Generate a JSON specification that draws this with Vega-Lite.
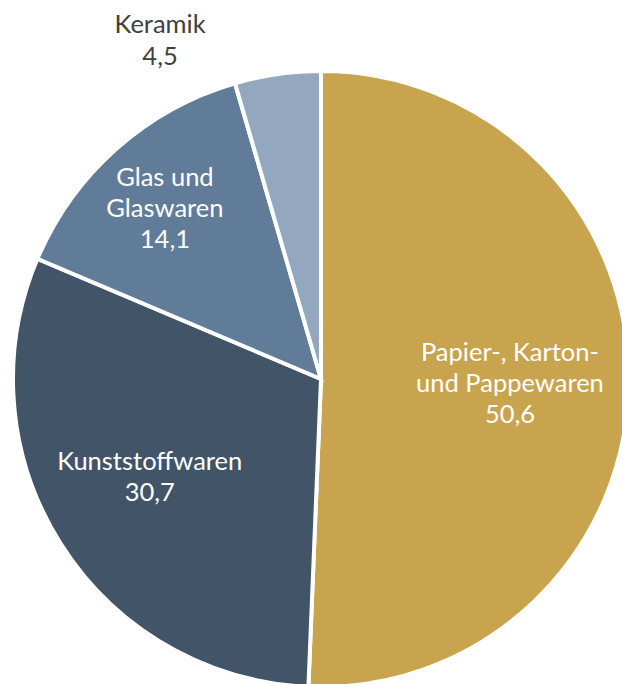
{
  "$schema": "https://vega.github.io/schema/vega-lite/v6.json",
  "width": 622,
  "height": 684,
  "autosize": "none",
  "padding": {"left": 10, "top": 37, "right": -10, "bottom": -37},
  "background": "white",
  "config": {"view": {"stroke": null}},
  "data": {
    "values": [
      {"category": "Papier-, Karton- und Pappewaren", "label": "Papier-, Karton-\nund Pappewaren\n50,6", "value": 50.6, "idx": 1},
      {"category": "Kunststoffwaren", "label": "Kunststoffwaren\n30,7", "value": 30.7, "idx": 2},
      {"category": "Glas und Glaswaren", "label": "Glas und\nGlaswaren\n14,1", "value": 14.1, "idx": 3},
      {"category": "Keramik", "label": "Keramik\n4,5", "value": 4.5, "idx": 4}
    ]
  },
  "encoding": {
    "theta": {"field": "value", "type": "quantitative", "stack": true},
    "order": {"field": "idx", "type": "quantitative"}
  },
  "layer": [
    {
      "mark": {"type": "arc", "outerRadius": 308, "stroke": "white", "strokeWidth": 4},
      "encoding": {
        "color": {
          "field": "category",
          "type": "nominal",
          "scale": {
            "domain": ["Papier-, Karton- und Pappewaren", "Kunststoffwaren", "Glas und Glaswaren", "Keramik"],
            "range": ["#C9A44E", "#425468", "#617C99", "#93A8BE"]
          },
          "legend": null
        }
      }
    },
    {
      "mark": {"type": "text", "radius": 189, "dy": -30, "font": "Lato", "fontSize": 25.5, "lineHeight": 31, "lineBreak": "\n", "color": "white", "align": "center", "baseline": "middle"},
      "encoding": {"text": {"condition": {"test": "datum.idx != 1", "value": ""}, "field": "label"}}
    },
    {
      "mark": {"type": "text", "radius": 198, "dx": -4, "dy": -23, "font": "Lato", "fontSize": 25.5, "lineHeight": 31, "lineBreak": "\n", "color": "white", "align": "center", "baseline": "middle"},
      "encoding": {"text": {"condition": {"test": "datum.idx != 2", "value": ""}, "field": "label"}}
    },
    {
      "mark": {"type": "text", "radius": 229, "dx": -4, "dy": -30, "font": "Lato", "fontSize": 25.5, "lineHeight": 31, "lineBreak": "\n", "color": "white", "align": "center", "baseline": "middle"},
      "encoding": {"text": {"condition": {"test": "datum.idx != 3", "value": ""}, "field": "label"}}
    },
    {
      "mark": {"type": "text", "radius": 340, "dx": -113, "dy": -17, "font": "Lato", "fontSize": 25.5, "lineHeight": 32, "lineBreak": "\n", "color": "#404040", "align": "center", "baseline": "middle"},
      "encoding": {"text": {"condition": {"test": "datum.idx != 4", "value": ""}, "field": "label"}}
    }
  ]
}
